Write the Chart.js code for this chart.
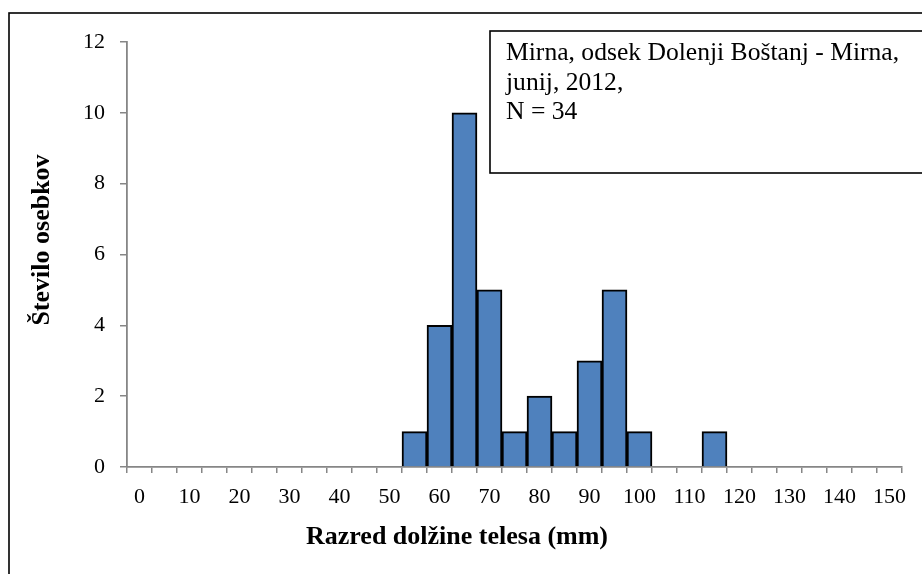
<!DOCTYPE html>
<html>
<head>
<meta charset="utf-8">
<script src="https://cdn.jsdelivr.net/npm/chart.js@4.4.1/dist/chart.umd.min.js"></script>
<style>
  html, body { margin: 0; padding: 0; background: #ffffff; }
  #wrap { width: 922px; height: 574px; position: relative; }
</style>
</head>
<body>
<div id="wrap"><canvas id="c" width="922" height="574"></canvas></div>
<script>
// Length classes (mm), 5 mm wide
const lengthClasses = ['0','5','10','15','20','25','30','35','40','45','50','55','60','65','70','75',
  '80','85','90','95','100','105','110','115','120','125','130','135','140','145','150'];
// Number of specimens in each class
const specimenCounts = [0,0,0,0,0,0,0,0,0,0,0,1,4,10,5,1,2,1,3,5,1,0,0,1,0,0,0,0,0,0,0];
const yTicks = [0, 2, 4, 6, 8, 10, 12];
const infoLines = ['Mirna, odsek Dolenji Boštanj - Mirna,', 'junij, 2012,', 'N = 34'];
const xTitle = 'Razred dolžine telesa (mm)';
const yTitle = 'Število osebkov';

const SERIF = '"Liberation Serif", "Times New Roman", serif';
const AXIS_GREY = '#868686';

// Outer frame, axis titles and the info box in the upper right corner
const framePlugin = {
  id: 'frameAndInfo',
  afterDraw(chart) {
    const ctx = chart.ctx;
    ctx.save();
    ctx.strokeStyle = '#000000';
    ctx.lineWidth = 1.6;
    ctx.strokeRect(9, 13, 940, 600);

    // axis titles
    ctx.fillStyle = '#000000';
    ctx.font = 'bold 26px ' + SERIF;
    ctx.textAlign = 'center';
    ctx.textBaseline = 'middle';
    ctx.fillText(xTitle, 457, 537);
    ctx.save();
    ctx.translate(42, 240);
    ctx.rotate(-Math.PI / 2);
    ctx.fillText(yTitle, 0, 0);
    ctx.restore();

    // info box
    ctx.fillStyle = '#ffffff';
    ctx.fillRect(490, 31, 460, 142);
    ctx.lineWidth = 1.6;
    ctx.strokeRect(490, 31, 460, 142);

    ctx.fillStyle = '#000000';
    ctx.font = '25.6px ' + SERIF;
    ctx.textBaseline = 'alphabetic';
    ctx.textAlign = 'left';
    infoLines.forEach((line, i) => {
      ctx.fillText(line, 506, 60 + i * 29.5);
    });
    ctx.restore();
  }
};

new Chart(document.getElementById('c'), {
  type: 'bar',
  data: {
    labels: lengthClasses,
    datasets: [{
      data: specimenCounts,
      backgroundColor: '#4F81BD',
      borderColor: '#000000',
      borderWidth: 2,
      borderSkipped: 'bottom',
      barPercentage: 1,
      categoryPercentage: 1
    }]
  },
  options: {
    responsive: false,
    animation: false,
    devicePixelRatio: 1,
    layout: { padding: { left: 0, top: 42, right: 20, bottom: 0 } },
    plugins: {
      legend: { display: false },
      tooltip: { enabled: false }
    },
    scales: {
      x: {
        grid: {
          display: true,
          offset: true,
          drawOnChartArea: false,
          drawTicks: true,
          tickLength: 6,
          color: AXIS_GREY,
          lineWidth: 1.5
        },
        border: { display: true, color: AXIS_GREY, width: 1.8 },
        ticks: {
          autoSkip: false,
          maxRotation: 0,
          minRotation: 0,
          padding: 11,
          color: '#000000',
          font: { family: SERIF, size: 22 },
          callback: (value, index) => (index % 2 === 0 ? lengthClasses[index] : '')
        },
        afterFit(scale) { scale.height = 107; }
      },
      y: {
        min: 0,
        max: 12,
        afterBuildTicks(scale) { scale.ticks = yTicks.map(v => ({ value: v })); },
        grid: {
          display: true,
          drawOnChartArea: false,
          drawTicks: true,
          tickLength: 7,
          color: AXIS_GREY,
          lineWidth: 1.5
        },
        border: { display: true, color: AXIS_GREY, width: 1.8 },
        ticks: {
          padding: 15,
          color: '#000000',
          font: { family: SERIF, size: 22 }
        },
        afterFit(scale) { scale.width = 127; }
      }
    }
  },
  plugins: [framePlugin]
});
</script>
</body>
</html>
